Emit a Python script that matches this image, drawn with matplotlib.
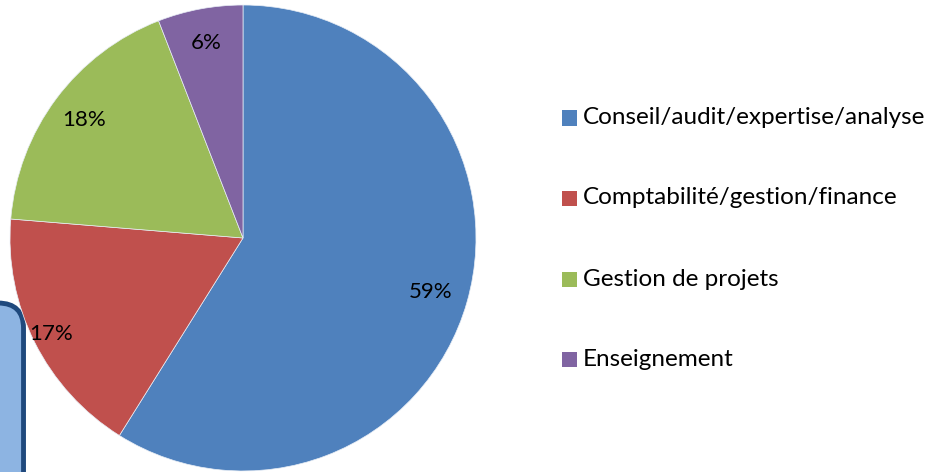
import matplotlib
matplotlib.use('Agg')
import matplotlib.pyplot as plt
from matplotlib.patches import FancyBboxPatch, Rectangle
import numpy as np

categories = ['Conseil/audit/expertise/analyse', 'Comptabilité/gestion/finance',
              'Gestion de projets', 'Enseignement']
values = [58.9, 17.4, 17.8, 5.9]
colors = ['#4F81BD', '#C0504D', '#9BBB59', '#8064A2']
# distance of each percentage label from the centre (fraction of radius)
label_dist = [0.84, 0.92, 0.85, 0.85]

plt.rcParams['font.family'] = ['Lato', 'DejaVu Sans']


def main():
    fig = plt.figure(figsize=(9.41, 4.72), dpi=100)

    # Light blue rounded box peeking in on the left edge
    box = FancyBboxPatch((-0.05, -0.2), 0.075, 0.558,
                         boxstyle='round,pad=0,rounding_size=0.027',
                         mutation_aspect=941 / 472,
                         transform=fig.transFigure, facecolor='#8DB4E2',
                         edgecolor='#1F497D', linewidth=3.5, zorder=0)
    fig.add_artist(box)

    ax = fig.add_axes([0.01063, 0.00212, 0.4952, 0.9873])
    wedges, _ = ax.pie(values, colors=colors, startangle=90, counterclock=False,
                       wedgeprops=dict(edgecolor='#E8EEF6', linewidth=0.5))
    ax.set_aspect('equal')
    ax.set_xlim(-1, 1)
    ax.set_ylim(-1, 1)
    ax.axis('off')

    total = sum(values)
    for w, v, d in zip(wedges, values, label_dist):
        ang = np.deg2rad((w.theta1 + w.theta2) / 2)
        ax.text(d * np.cos(ang), d * np.sin(ang), '%.0f%%' % (100 * v / total),
                ha='center', va='center', fontsize=16, color='black')

    # Legend
    rows_y = [118, 198, 279, 359]
    for name, col, y in zip(categories, colors, rows_y):
        yf = 1 - y / 472
        fig.add_artist(Rectangle((562 / 941, yf - 7.5 / 472), 15 / 941, 15 / 472,
                                 transform=fig.transFigure, facecolor=col,
                                 edgecolor='none'))
        fig.text(583 / 941, yf, name, ha='left', va='center', fontsize=17.5,
                 color='black')

    fig.savefig('out.png', dpi=100)


if __name__ == '__main__':
    main()
